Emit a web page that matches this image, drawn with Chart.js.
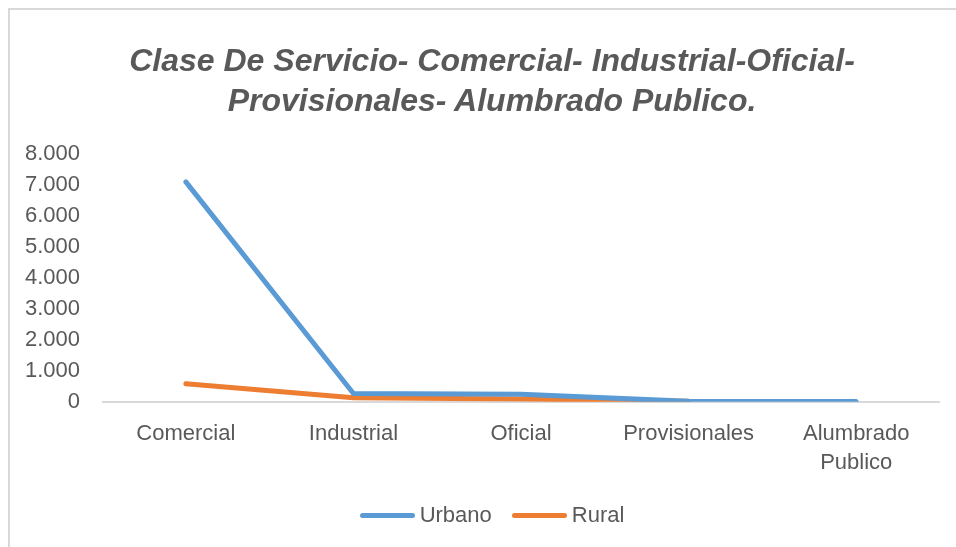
<!DOCTYPE html>
<html>
<head>
<meta charset="utf-8">
<script src="https://cdn.jsdelivr.net/npm/chart.js@4"></script>
<style>
  body { margin: 0; background: #fff; }
  #wrap { position: relative; width: 956px; height: 547px; overflow: hidden; }
  #frame { position: absolute; left: 8px; top: 8px; width: 966px; height: 560px;
           border-top: 2px solid #d9d9d9; border-left: 2px solid #d9d9d9; }
  #title { position: absolute; left: 8px; top: 40px; width: 968px; text-align: center;
           font: italic bold 32px/40px 'Liberation Sans', Arial, sans-serif; color: #595959; }
  #legend { position: absolute; left: 8px; top: 502px; width: 968px; text-align: center;
            font: 22px/26px 'Liberation Sans', Arial, sans-serif; color: #595959; }
  #legend span.item { display: inline-block; margin: 0 10px; }
  #legend span.mark { display: inline-block; width: 55px; height: 5px; border-radius: 3px;
                      vertical-align: middle; margin-right: 5px; position: relative; top: -1px; }
  canvas { position: absolute; left: 0; top: 0; }
</style>
</head>
<body>
<div id="wrap">
  <div id="frame"></div>
  <canvas id="lineChart" width="956" height="547"></canvas>
  <div id="title">Clase De Servicio- Comercial- Industrial-Oficial-<br>Provisionales- Alumbrado Publico.</div>
  <div id="legend"></div>
</div>
<script>
// valores
var categories = ["Comercial", "Industrial", "Oficial", "Provisionales", "Alumbrado Publico"];
var urbano = [7100, 270, 240, 15, 10];
var rural = [580, 130, 90, 15, null];
var yTicks = [0, 1000, 2000, 3000, 4000, 5000, 6000, 7000, 8000];

var textFont = "'Liberation Sans', Arial, sans-serif";
var grey = "#595959";

function miles(v){
    return String(v).replace(/\B(?=(\d{3})+(?!\d))/g, ".");
}

function drawLegend(chart){
    var html = chart.data.datasets.map(function(ds){
        return '<span class="item"><span class="mark" style="background:' + ds.borderColor + '"></span>' + ds.label + '</span>';
    }).join("");
    document.getElementById('legend').innerHTML = html;
}

function drawChart(){
    const CHART = document.getElementById('lineChart');
    let lineChart = new Chart(CHART, {
        type: 'line',
        data: {
            labels: categories,
            datasets: [
                {
                    label: "Urbano",
                    data: urbano,
                    borderColor: "#5b9bd5",
                    backgroundColor: "#5b9bd5",
                    borderWidth: 5,
                    borderCapStyle: 'round',
                    borderJoinStyle: 'round',
                    pointRadius: 0,
                    tension: 0
                },
                {
                    label: "Rural",
                    data: rural,
                    borderColor: "#ed7d31",
                    backgroundColor: "#ed7d31",
                    borderWidth: 5,
                    borderCapStyle: 'round',
                    borderJoinStyle: 'round',
                    pointRadius: 0,
                    tension: 0
                }
            ]
        },
        options: {
            responsive: false,
            animation: false,
            layout: { padding: { top: 154, left: 3, right: 16, bottom: 60 } },
            plugins: {
                title: { display: false },
                legend: { display: false },
                tooltip: { enabled: false }
            },
            scales: {
                x: {
                    offset: true,
                    grid: { display: false },
                    border: { display: false },
                    ticks: {
                        color: grey,
                        font: { family: textFont, size: 22, lineHeight: 1.3 },
                        padding: 10,
                        maxRotation: 0,
                        autoSkip: false,
                        callback: function(v){
                            var s = this.getLabelForValue(v);
                            return s.length > 14 ? s.split(" ") : s;
                        }
                    }
                },
                y: {
                    min: 0,
                    max: 8000,
                    afterBuildTicks: function(s){
                        s.ticks = yTicks.map(function(v){ return { value: v }; });
                    },
                    grid: {
                        drawTicks: false,
                        lineWidth: 2,
                        color: function(ctx){ return ctx.tick && ctx.tick.value === 0 ? "#d9d9d9" : "rgba(0,0,0,0)"; }
                    },
                    border: { display: false },
                    ticks: {
                        color: grey,
                        font: { family: textFont, size: 22 },
                        padding: 22,
                        autoSkip: false,
                        callback: function(v){ return miles(v); }
                    }
                }
            }
        }
    });
    drawLegend(lineChart);
}

drawChart();
</script>
</body>
</html>
